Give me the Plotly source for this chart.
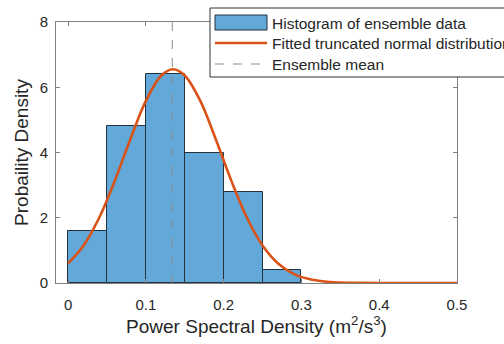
import plotly.graph_objects as go

# Histogram (probability density), bin width 0.05
bin_left = [0.0, 0.05, 0.10, 0.15, 0.20, 0.25]
bin_width = 0.05
density = [1.6, 4.8, 6.4, 4.0, 2.8, 0.4]

# Fitted truncated normal curve
curve_x = [0.0, 0.02, 0.04, 0.06, 0.08, 0.10, 0.12, 0.135, 0.15, 0.17, 0.19, 0.21,
           0.23, 0.25, 0.27, 0.29, 0.31, 0.33, 0.35, 0.37, 0.40, 0.45, 0.50]
curve_y = [0.60, 1.15, 2.00, 3.13, 4.40, 5.58, 6.36, 6.55, 6.36, 5.58, 4.40, 3.13,
           2.00, 1.15, 0.60, 0.28, 0.12, 0.044, 0.015, 0.004, 0.0003, 0.0, 0.0]

ensemble_mean = 0.134

x_ticks = [0, 0.1, 0.2, 0.3, 0.4, 0.5]
x_tick_text = ["0", "0.1", "0.2", "0.3", "0.4", "0.5"]
y_ticks = [0, 2, 4, 6, 8]

legend_labels = ["Histogram of ensemble data", "Fitted truncated normal distribution", "Ensemble mean"]

FONT = "Liberation Sans, Arial, sans-serif"
TXT = "#262626"
BAR_COLOR = "rgb(98,168,216)"
BAR_EDGE = "#25313d"
CURVE_COLOR = "#D95319"
MEAN_COLOR = "#8c8c8c"

fig = go.Figure()
fig.add_trace(go.Bar(
    x=[b + bin_width / 2 for b in bin_left], y=density, width=bin_width,
    marker=dict(color=BAR_COLOR, line=dict(color=BAR_EDGE, width=1)),
    name=legend_labels[0], showlegend=False,
))
fig.add_trace(go.Scatter(
    x=curve_x, y=curve_y, mode="lines", line=dict(color=CURVE_COLOR, width=2.6, shape="spline"),
    name=legend_labels[1], showlegend=False,
))
fig.add_trace(go.Scatter(
    x=[ensemble_mean, ensemble_mean], y=[0, 8], mode="lines",
    line=dict(color=MEAN_COLOR, width=1, dash="dash"),
    name=legend_labels[2], showlegend=False,
))

axis_common = dict(showline=True, linecolor="#808080", linewidth=1, mirror="allticks",
                   ticks="inside", ticklen=4, tickcolor="#808080", showgrid=False,
                   zeroline=False, automargin=False,
                   tickfont=dict(family=FONT, size=15, color=TXT))

# plot area in pixels: x 56..457, y 22..283
L, R, T, B = 56, 457, 22, 283
def px(x):
    return (x - L) / (R - L)
def py(y):
    return (B - y) / (B - T)

shapes = [
    # legend box
    dict(type="rect", xref="paper", yref="paper", x0=px(210), x1=px(530), y0=py(77), y1=py(8),
         fillcolor="white", line=dict(color="#333333", width=1), layer="above"),
    # histogram swatch
    dict(type="rect", xref="paper", yref="paper", x0=px(215), x1=px(267), y0=py(30), y1=py(15),
         fillcolor=BAR_COLOR, line=dict(color=BAR_EDGE, width=1), layer="above"),
    # curve swatch
    dict(type="line", xref="paper", yref="paper", x0=px(215), x1=px(267), y0=py(43), y1=py(43),
         line=dict(color=CURVE_COLOR, width=2.6), layer="above"),
    # mean swatch
    dict(type="line", xref="paper", yref="paper", x0=px(215), x1=px(267), y0=py(64), y1=py(64),
         line=dict(color=MEAN_COLOR, width=1, dash="dash"), layer="above"),
]
annotations = [
    dict(text=lab, xref="paper", yref="paper", x=px(270), y=py(yc), xanchor="left", yanchor="middle",
         showarrow=False, font=dict(family=FONT, size=15.5, color=TXT))
    for lab, yc in zip(legend_labels, [23, 43, 64])
]

fig.update_layout(
    width=504, height=344,
    margin=dict(l=L, r=504 - R, t=T, b=344 - B),
    paper_bgcolor="white", plot_bgcolor="white",
    font=dict(family=FONT, color=TXT),
    bargap=0,
    showlegend=False,
    xaxis=dict(range=[-0.0155, 0.5], tickvals=x_ticks, ticktext=x_tick_text, ticklabelstandoff=8,
               title=dict(text="Power Spectral Density (m<sup>2</sup>/s<sup>3</sup>)",
                          font=dict(family=FONT, size=19, color=TXT), standoff=6),
               **axis_common),
    yaxis=dict(range=[0, 8], tickvals=y_ticks, ticklabelstandoff=4,
               title=dict(text="Probaility Density", font=dict(family=FONT, size=19, color=TXT),
                          standoff=6),
               **axis_common),
    shapes=shapes,
    annotations=annotations,
)

fig.write_html("out.html")
